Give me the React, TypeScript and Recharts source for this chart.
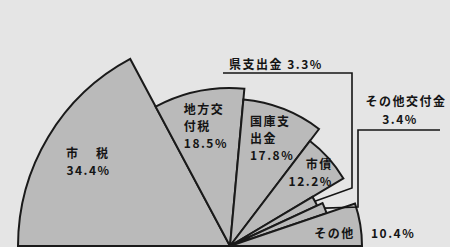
import { PieChart, Pie, Cell } from 'recharts';

// 歳入の内訳 (%)
const categories = ['市税', '地方交付税', '国庫支出金', '市債', '県支出金', 'その他交付金', 'その他'];
const shares = [34.4, 18.5, 17.8, 12.2, 3.3, 3.4, 10.4];
const labelNames = [['市　税'], ['地方交', '付税'], ['国庫支', '出金'], ['市債'], ['県支出金'], ['その他交付金'], ['その他']];

const data = categories.map((name, i) => ({ name, value: shares[i] }));

// the paper draws every wedge of the fan with its own length
const radii = [212, 158, 147, 132, 96, 102, 132];
const labelRadii = [165, 122, 116, 111, 0, 0, 106];
const labelAnchors = ['middle', 'start', 'start', 'end', 'start', 'middle', 'middle'];

const CX = 230;
const CY = 246;
const RAD = Math.PI / 180;
const FONT = '"Noto Sans CJK JP", "Noto Sans", sans-serif';
const INK = '#141414';
const pct = (v: number) => `${v.toFixed(1)}%`;

const txt = {
  fontFamily: FONT,
  fontSize: 12,
  fontWeight: 700,
  letterSpacing: 1.5,
  fill: INK,
};

const renderLabel = (props: any) => {
  const { cx, cy, midAngle, index, value } = props;
  const cos = Math.cos(-midAngle * RAD);
  const sin = Math.sin(-midAngle * RAD);
  const r = radii[index];
  const names = labelNames[index];

  if (index === 4) {
    // 県支出金: leader up to the heading
    const ex = cx + r * cos;
    const ey = cy + r * sin;
    return (
      <g key={`lbl-${index}`}>
        <path d={`M${ex},${ey} L352,188 L352,73 L223,73`} fill="none" stroke={INK} strokeWidth={1.6} />
        <text x={229} y={69} {...txt} textAnchor="start">
          {`${names[0]} ${pct(value)}`}
        </text>
      </g>
    );
  }
  if (index === 5) {
    const ex = cx + r * cos;
    const ey = cy + r * sin;
    return (
      <g key={`lbl-${index}`}>
        <path d={`M${ex},${ey} L358,207 L358,130 L440,130`} fill="none" stroke={INK} strokeWidth={1.6} />
        <text x={406} y={106} {...txt} textAnchor="middle">
          {names[0]}
        </text>
        <text x={400} y={124} {...txt} textAnchor="middle">
          {pct(value)}
        </text>
      </g>
    );
  }

  const lr = labelRadii[index];
  const px = cx + lr * cos;
  const py = cy + lr * sin;

  if (index === 6) {
    return (
      <g key={`lbl-${index}`}>
        <text x={px} y={py + 9} {...txt} textAnchor="middle">
          {names[0]}
        </text>
        <text x={cx + r + 9} y={py + 9} {...txt} textAnchor="start">
          {pct(value)}
        </text>
      </g>
    );
  }

  const lines = [...names, pct(value)];
  const lh = 17;
  const anchor = labelAnchors[index];
  const x = anchor === 'start' ? px - 22 : anchor === 'end' ? px + 20 : px;
  const y0 = py - ((lines.length - 1) * lh) / 2 + 5;
  return (
    <g key={`lbl-${index}`}>
      {lines.map((s, k) => (
        <text
          key={k}
          x={x}
          y={y0 + k * lh}
          {...txt}
          textAnchor={anchor as any}
          letterSpacing={index === 0 && k === 0 ? 3 : 1.5}
        >
          {s}
        </text>
      ))}
    </g>
  );
};

export default function App() {
  return (
    <div style={{ position: 'absolute', left: 0, top: 0, width: 450, height: 247, background: '#e5e5e5', overflow: 'hidden' }}>
      <PieChart width={450} height={247} margin={{ top: 0, right: 0, bottom: 0, left: 0 }}>
        {radii.map((rad, i) => (
          <Pie
            key={`wedge-${i}`}
            data={data}
            dataKey="value"
            nameKey="name"
            cx={CX}
            cy={CY}
            startAngle={180}
            endAngle={0}
            innerRadius={0}
            outerRadius={rad}
            isAnimationActive={false}
          >
            {data.map((entry, j) => (
              <Cell
                key={`cell-${j}`}
                fill={j === i ? '#bababa' : 'none'}
                stroke={j === i ? '#1a1a1a' : 'none'}
                strokeWidth={2}
              />
            ))}
          </Pie>
        ))}
        <Pie
          data={data}
          dataKey="value"
          nameKey="name"
          cx={CX}
          cy={CY}
          startAngle={180}
          endAngle={0}
          outerRadius={90}
          fill="none"
          stroke="none"
          label={renderLabel}
          labelLine={false}
          isAnimationActive={false}
        />
      </PieChart>
    </div>
  );
}
